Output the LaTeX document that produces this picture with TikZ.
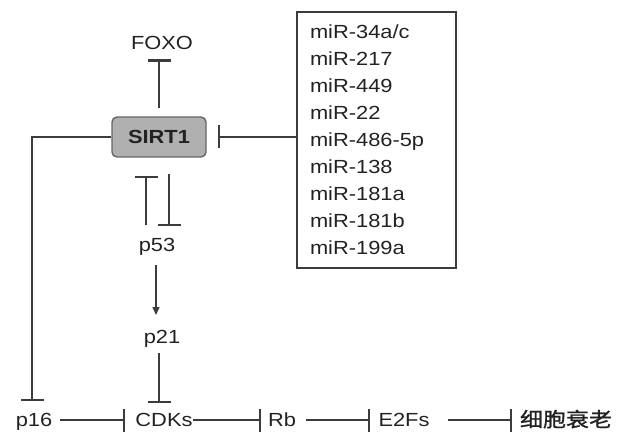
\documentclass[tikz,border=0pt]{standalone}
\usepackage{fontspec}
\setmainfont{Liberation Sans}[FakeStretch=1.15]
\newfontfamily\cjk{Noto Sans CJK SC}[FakeStretch=1.15,FakeBold=1.2]
\usetikzlibrary{arrows.meta,calc}
\definecolor{txt}{HTML}{222222}
\definecolor{ln}{HTML}{3C3C3C}
\definecolor{boxfill}{HTML}{B0B0B0}
\definecolor{boxline}{HTML}{666666}
\begin{document}
\begin{tikzpicture}[x=1pt,y=1pt,
  lbl/.style={inner sep=0pt, text height=13.5pt, text depth=0pt, font=\fontsize{19}{23}\selectfont, text=txt},
  inh/.style={draw=ln, line width=1.3pt, -{Bar[width=23pt,line width'=2.4pt]}},
  act/.style={draw=ln, line width=1.3pt, -{Triangle[length=8pt,width=7pt]}},
  sirtbox/.style={draw=boxline, fill=boxfill, line width=1.4pt, rounded corners=5pt,
    minimum width=94pt, minimum height=40pt, inner sep=0pt,
    font=\bfseries\fontsize{19}{23}\selectfont, text=txt},
  mirbox/.style={draw=ln, line width=1.2pt, minimum width=159pt, minimum height=256pt,
    inner sep=0pt, text width=133pt, align=left, font=\fontsize{19}{27}\selectfont, text=txt}
]
\useasboundingbox (0,0) rectangle (624,434);

\node[lbl] (FOXO) at (162,391) {FOXO};
\node[sirtbox] (SIRT1) at (159,297) {SIRT1};
\node[mirbox] (miR) at (376.5,294) {miR-34a/c\\miR-217\\miR-449\\miR-22\\miR-486-5p\\miR-138\\miR-181a\\miR-181b\\miR-199a};
\node[lbl] (p53) at (157,189) {p53};
\node[lbl] (p21) at (162,97) {p21};
\node[lbl] (p16) at (34,14) {p16};
\node[lbl] (CDKs) at (164,14) {CDKs};
\node[lbl] (Rb) at (282,14) {Rb};
\node[lbl] (E2Fs) at (404,14) {E2Fs};
\node[lbl, font=\cjk\fontsize{20}{24}\selectfont] (sen) at (566,14) {细胞衰老};
\coordinate (p16in) at (32,33);

\draw[inh] ([yshift=8pt]SIRT1.north) -- ($(SIRT1.north |- FOXO.south)+(0,-9.25)$);
\draw[inh] (miR.west |- SIRT1.east) -- ([xshift=11pt]SIRT1.east);
\draw[inh] (SIRT1.west) -| (p16in);
\draw[inh] ($(p53.north)+(-11,13)$) -- ($(SIRT1.south)+(-13,-18)$);
\draw[inh] ($(SIRT1.south)+(10,-16)$) -- ($(p53.north)+(12,12)$);
\draw[act] ($(p53.south)+(-1,-13)$) -- ($(p21.north)+(-6,15)$);
\draw[inh] ($(p21.south)+(-3,-9)$) -- ($(CDKs.north)+(-5,10)$);

\draw[inh] ($(p16)+(26,0)$) -- ($(CDKs)+(-39,0)$);
\draw[inh] ($(CDKs)+(29,0)$) -- ($(Rb)+(-21,0)$);
\draw[inh] ($(Rb)+(24,0)$) -- ($(E2Fs)+(-34,0)$);
\draw[inh] ($(E2Fs)+(44,0)$) -- ($(sen)+(-54,0)$);
\end{tikzpicture}
\end{document}
